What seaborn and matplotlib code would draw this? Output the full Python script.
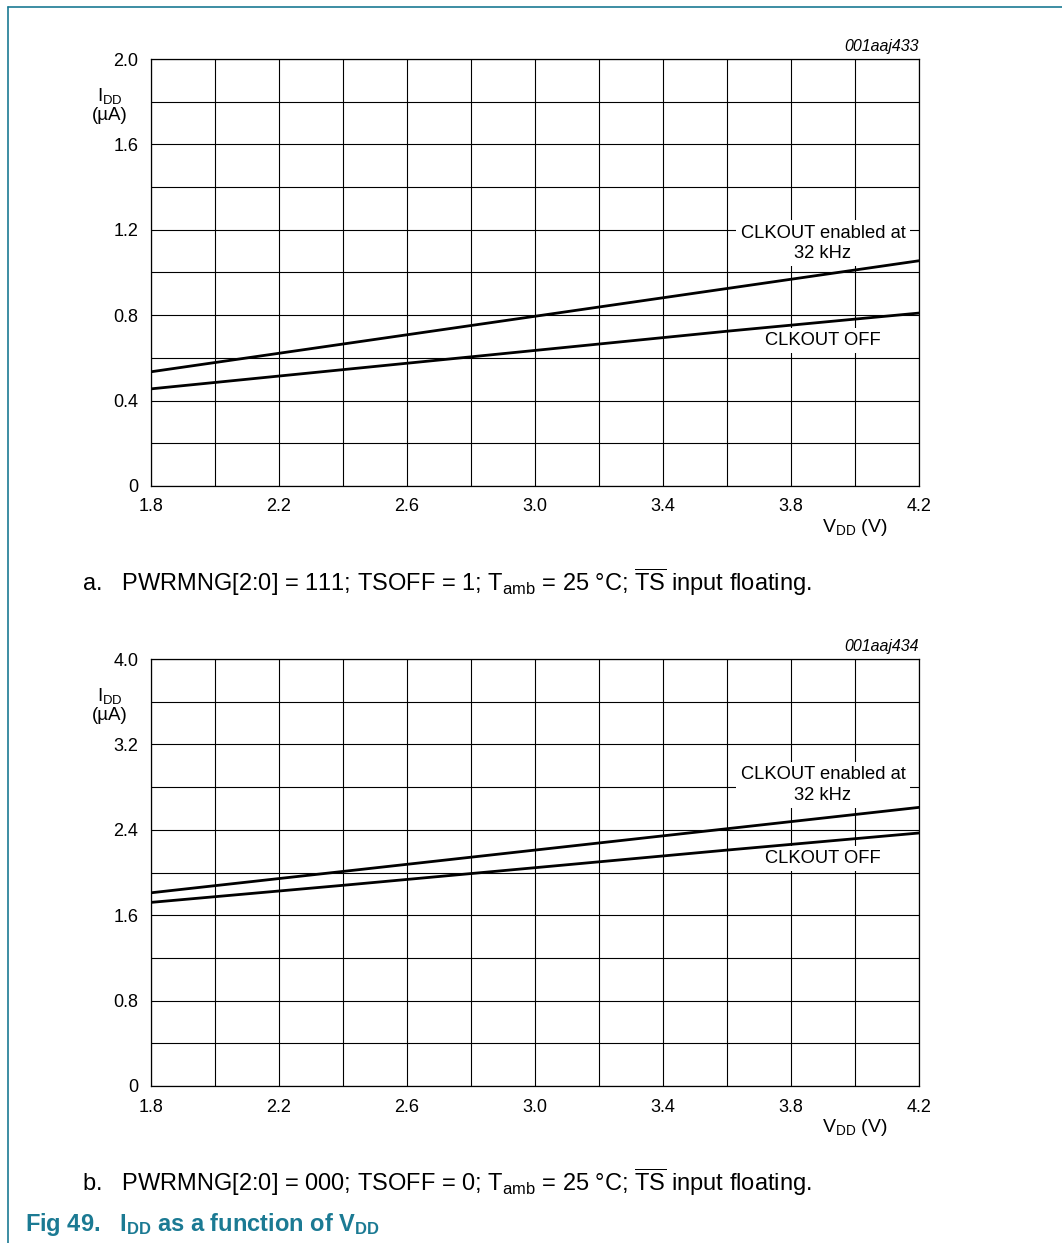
import matplotlib
matplotlib.use("Agg")
import matplotlib.pyplot as plt
import seaborn as sns
import numpy as np
import pandas as pd
from matplotlib.lines import Line2D

# データ (V_DD に対する I_DD, µA)
vdd = [1.8, 2.4, 3.0, 3.6, 4.2]
idd_a_clk = [0.535, 0.665, 0.795, 0.925, 1.055]
idd_a_off = [0.455, 0.545, 0.635, 0.725, 0.81]
idd_b_clk = [1.81, 2.01, 2.21, 2.41, 2.61]
idd_b_off = [1.72, 1.88, 2.045, 2.21, 2.37]

x_ticks = [1.8, 2.2, 2.6, 3.0, 3.4, 3.8, 4.2]
x_grid = [1.8, 2.0, 2.2, 2.4, 2.6, 2.8, 3.0, 3.2, 3.4, 3.6, 3.8, 4.0, 4.2]
y_ticks_a = [0, 0.4, 0.8, 1.2, 1.6, 2.0]
y_ticks_b = [0, 0.8, 1.6, 2.4, 3.2, 4.0]

codes = ["001aaj433", "001aaj434"]
captions = [
    r"a.   PWRMNG[2:0] = 111; TSOFF = 1; T$_{\mathrm{amb}}$ = 25 °C; $\overline{\mathrm{TS}}$ input floating.",
    r"b.   PWRMNG[2:0] = 000; TSOFF = 0; T$_{\mathrm{amb}}$ = 25 °C; $\overline{\mathrm{TS}}$ input floating.",
]

sns.set_style("white")
plt.rcParams['font.family'] = ['Liberation Sans', 'DejaVu Sans']
plt.rcParams['text.color'] = 'black'
plt.rcParams['xtick.color'] = 'black'
plt.rcParams['ytick.color'] = 'black'
plt.rcParams['mathtext.fontset'] = 'custom'
plt.rcParams['mathtext.rm'] = 'Liberation Sans'
plt.rcParams['mathtext.it'] = 'Liberation Sans:italic'
plt.rcParams['mathtext.bf'] = 'Liberation Sans:bold'

W, H = 1062, 1243
fig = plt.figure(figsize=(W / 100, H / 100), dpi=100)
teal = "#1b7a93"

# 枠線
fig.add_artist(Line2D([8 / W, 8 / W], [0, 1 - 7 / H], color=teal, lw=1.2))
fig.add_artist(Line2D([8 / W, 1], [1 - 7 / H, 1 - 7 / H], color=teal, lw=1.2))

panels = [
    dict(top=59, clk=idd_a_clk, off=idd_a_off, yt=y_ticks_a,
         lab_clk=1.137, lab_off=0.682, cap_y=582),
    dict(top=659, clk=idd_b_clk, off=idd_b_off, yt=y_ticks_b,
         lab_clk=2.82, lab_off=2.13, cap_y=1182),
]

for i, p in enumerate(panels):
    left, right = 151, 919
    bottom = p['top'] + 427
    ax = fig.add_axes([left / W, 1 - bottom / H, (right - left) / W, 427 / H])
    df = pd.DataFrame({'V': vdd * 2,
                       'I': p['clk'] + p['off'],
                       's': ['clk'] * len(vdd) + ['off'] * len(vdd)})
    sns.lineplot(data=df, x='V', y='I', units='s', estimator=None,
                 color='black', lw=2.0, ax=ax, zorder=5)
    yt = p['yt']
    y_grid = list(np.round(np.linspace(yt[0], yt[-1], 2 * len(yt) - 1), 2))
    ax.set_xticks(x_grid, minor=True)
    ax.set_yticks(y_grid, minor=True)
    ax.set_xticks(x_ticks)
    ax.set_xticklabels([f"{v:.1f}" for v in x_ticks])
    ax.set_yticks(yt)
    ax.set_yticklabels(['0' if v == 0 else f"{v:.1f}" for v in yt])
    ax.set_xlim(1.8, 4.2)
    ax.set_ylim(yt[0], yt[-1])
    ax.grid(which='both', color='black', lw=0.8)
    ax.tick_params(which='both', length=0, labelsize=13, pad=9)
    ax.set_xlabel('')
    ax.set_ylabel('')
    for s in ax.spines.values():
        s.set_visible(True)
        s.set_color('black')
        s.set_linewidth(0.9)

    box = dict(facecolor='white', edgecolor='none', pad=3)
    ax.text(3.9, p['lab_clk'], "CLKOUT enabled at\n32 kHz", ha='center', va='center',
            fontsize=13.2, linespacing=1.25, bbox=box, zorder=4)
    ax.text(3.9, p['lab_off'], "CLKOUT OFF", ha='center', va='center',
            fontsize=13.2, bbox=box, zorder=4)

    fig.text(right / W, 1 - (p['top'] - 12) / H, codes[i], ha='right', va='center',
             fontsize=11.5, style='italic')
    fig.text(110 / W, 1 - (p['top'] + 37) / H, r"I$_{\mathrm{DD}}$", ha='center',
             va='center', fontsize=13.5)
    fig.text(110 / W, 1 - (p['top'] + 57) / H, "(µA)", ha='center', va='center',
             fontsize=13.5)
    fig.text(855 / W, 1 - (bottom + 41) / H, r"V$_{\mathrm{DD}}$ (V)", ha='center',
             va='center', fontsize=14)
    fig.text(82 / W, 1 - p['cap_y'] / H, captions[i], ha='left', va='center',
             fontsize=17)

fig.text(25 / W, 1 - 1225 / H, r"Fig 49.   I$_{\mathbf{DD}}$ as a function of V$_{\mathbf{DD}}$",
         ha='left', va='center', fontsize=17, fontweight='bold', color=teal)

fig.savefig("out.png", dpi=100)
